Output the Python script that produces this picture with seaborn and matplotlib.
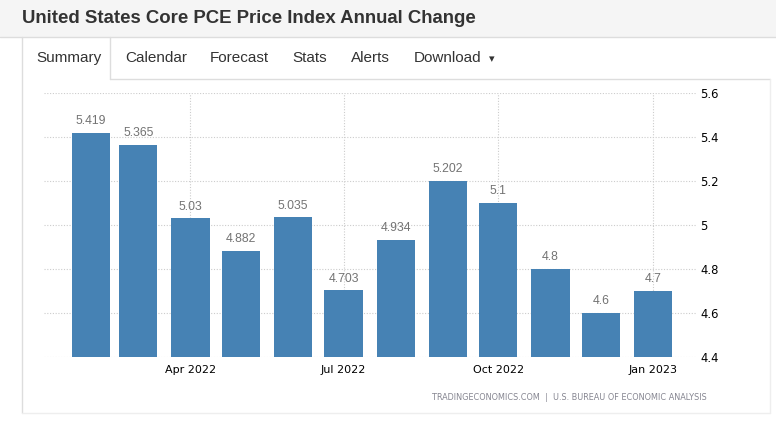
import numpy as np
import pandas as pd
import matplotlib
matplotlib.use("Agg")
import matplotlib.pyplot as plt
import matplotlib.dates as mdates
from matplotlib.ticker import FixedLocator, FixedFormatter
from matplotlib.patches import Rectangle
import seaborn as sns

# data
months = ["2022-02-01", "2022-03-01", "2022-04-01", "2022-05-01", "2022-06-01", "2022-07-01",
          "2022-08-01", "2022-09-01", "2022-10-01", "2022-11-01", "2022-12-01", "2023-01-01"]
core_pce = [5.419, 5.365, 5.03, 4.882, 5.035, 4.703, 4.934, 5.202, 5.1, 4.8, 4.6, 4.7]
value_labels = ["5.419", "5.365", "5.03", "4.882", "5.035", "4.703",
                "4.934", "5.202", "5.1", "4.8", "4.6", "4.7"]
x_tick_dates = ["2022-04-01", "2022-07-01", "2022-10-01", "2023-01-01"]
x_tick_labels = ["Apr 2022", "Jul 2022", "Oct 2022", "Jan 2023"]
y_ticks = [4.4, 4.6, 4.8, 5.0, 5.2, 5.4, 5.6]
y_tick_labels = ["4.4", "4.6", "4.8", "5", "5.2", "5.4", "5.6"]
tabs = ["Summary", "Calendar", "Forecast", "Stats", "Alerts", "Download"]

title = "United States Core PCE Price Index Annual Change"
source = "TRADINGECONOMICS.COM  |  U.S. BUREAU OF ECONOMIC ANALYSIS"

W, H = 776, 428
BAR = "#4682b4"
BORDER = "#dddddd"

sns.set_style("white")
plt.rcParams["font.family"] = ["DejaVu Sans"]

fig = plt.figure(figsize=(W / 100, H / 100), dpi=100)

# page chrome drawn in pixel coordinates
bg = fig.add_axes([0, 0, 1, 1], zorder=0)
bg.set_xlim(0, W)
bg.set_ylim(H, 0)
bg.axis("off")
bg.add_patch(Rectangle((0, 0), W, 37, color="#f5f5f5", lw=0))
bg.plot([0, W], [37, 37], color=BORDER, lw=1)
bg.text(22, 18, title, ha="left", va="center", fontsize=13.4, fontweight="bold",
        color="#333333", family=["Liberation Sans", "DejaVu Sans"])

# tab row
bg.plot([22, 22], [37, 413], color=BORDER, lw=1)
bg.plot([110, 110], [37, 79], color=BORDER, lw=1)
bg.plot([110, 770], [79, 79], color=BORDER, lw=1)
bg.plot([770, 770], [79, 413], color="#eeeeee", lw=1)
bg.plot([22, 770], [413, 413], color="#eeeeee", lw=1)
tab_x = [36, 125, 210, 292, 351, 414]
for label, tx in zip(tabs, tab_x):
    bg.text(tx, 58, label, ha="left", va="center", fontsize=11, color="#333333",
            family=["Liberation Sans", "DejaVu Sans"])
bg.text(492, 59, "\u25be", ha="center", va="center", fontsize=8, color="#333333")
bg.text(707, 398, source, ha="right", va="center", fontsize=5.85, color="#858590")

# chart
df = pd.DataFrame({"month": pd.to_datetime(months), "value": core_pce})
df["x"] = mdates.date2num(df["month"])

ax = fig.add_axes([44 / W, (H - 357) / H, (697 - 44) / W, (357 - 93) / H], zorder=1)
ax.set_facecolor("none")
sns.barplot(data=df, x="x", y="value", native_scale=True, width=0.81,
            color=BAR, saturation=1, linewidth=0, ax=ax)
ax.bar_label(ax.containers[0], labels=value_labels, padding=4,
             fontsize=8.8, color="#737373", family=["Liberation Sans", "DejaVu Sans"])

ax.set_ylim(4.4, 5.6)
ax.set_xlim(mdates.date2num(pd.Timestamp("2022-01-04")),
            mdates.date2num(pd.Timestamp("2023-01-27")))
ax.xaxis.set_major_locator(FixedLocator(mdates.date2num(pd.to_datetime(x_tick_dates))))
ax.xaxis.set_major_formatter(FixedFormatter(x_tick_labels))
ax.set_yticks(y_ticks)
ax.set_yticklabels(y_tick_labels)
ax.yaxis.tick_right()
ax.set_xlabel("")
ax.set_ylabel("")

ax.set_axisbelow(True)
ax.grid(True, linestyle=(0, (1, 1.5)), color="#cccccc", linewidth=0.8)
for side in ax.spines.values():
    side.set_visible(False)
ax.tick_params(axis="y", length=0, pad=2.5, labelsize=8.4, labelcolor="black")
ax.tick_params(axis="x", length=3, width=0.8, color="#cccccc", pad=3,
               labelsize=8, labelcolor="black")

fig.savefig("out.png", dpi=100)
